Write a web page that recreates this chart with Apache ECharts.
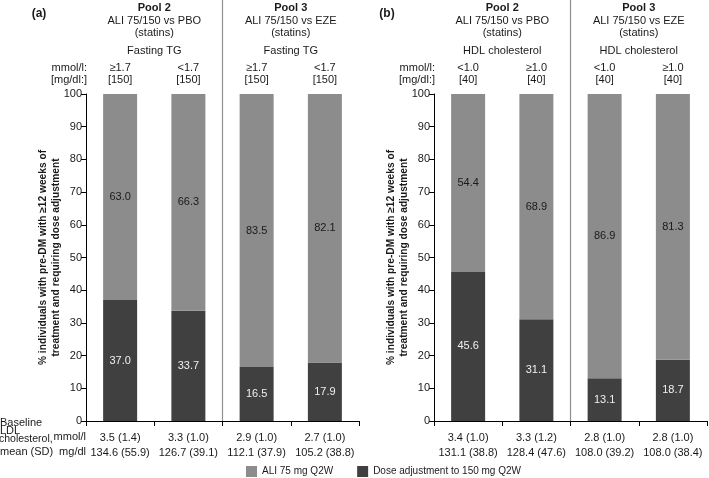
<!DOCTYPE html>
<html><head><meta charset="utf-8">
<script src="https://cdn.jsdelivr.net/npm/echarts@6/dist/echarts.min.js"></script>
<style>html,body{margin:0;padding:0;background:#fff}#c{width:709px;height:478px}</style>
</head><body><div id="c"></div>
<script>
// ---- data ----
const ldlMmolA = ['3.5 (1.4)', '3.3 (1.0)', '2.9 (1.0)', '2.7 (1.0)'];
const ldlMgA   = ['134.6 (55.9)', '126.7 (39.1)', '112.1 (37.9)', '105.2 (38.8)'];
const ldlMmolB = ['3.4 (1.0)', '3.3 (1.2)', '2.8 (1.0)', '2.8 (1.0)'];
const ldlMgB   = ['131.1 (38.8)', '128.4 (47.6)', '108.0 (39.2)', '108.0 (38.4)'];
const cutMmolA = ['≥1.7', '<1.7', '≥1.7', '<1.7'];
const cutMgA   = ['[150]', '[150]', '[150]', '[150]'];
const cutMmolB = ['<1.0', '≥1.0', '<1.0', '≥1.0'];
const cutMgB   = ['[40]', '[40]', '[40]', '[40]'];
const doseAdjA = [37.0, 33.7, 16.5, 17.9];
const ali75A   = [63.0, 66.3, 83.5, 82.1];
const doseAdjB = [45.6, 31.1, 13.1, 18.7];
const ali75B   = [54.4, 68.9, 86.9, 81.3];
const yTickMin = 0, yTickMax = 100, yTickStep = 10;
const seriesNames = ['ALI 75 mg Q2W', 'Dose adjustment to 150 mg Q2W'];
const poolTitles = ['Pool 2', 'Pool 3'];
const poolSubs = ['ALI 75/150 vs PBO', 'ALI 75/150 vs EZE'];
const poolNote = '(statins)';
const varNames = ['Fasting TG', 'HDL cholesterol'];
const panelTags = ['(a)', '(b)'];
const yTitle = '% individuals with pre-DM with ≥12 weeks of\ntreatment and requiring dose adjustment';

const FONT = '"Liberation Sans", Arial, sans-serif';
const LIGHT = '#8c8c8c', DARK = '#404040', TXT = '#1a1a1a';

const chart = echarts.init(document.getElementById('c'), null, {renderer: 'canvas'});

function pairLabels(a, b) { return a.map((v, i) => v + '\n' + b[i]); }

const grids = [
  {left: 86, top: 94, width: 273, height: 327},
  {left: 434, top: 94, width: 273, height: 327}
];

function bottomAxis(gi, cats) {
  return {
    type: 'category', gridIndex: gi, position: 'bottom', data: cats,
    axisLine: {lineStyle: {color: '#000', width: 1}},
    axisTick: {show: true, length: 5, lineStyle: {color: '#000'}},
    axisLabel: {color: TXT, fontFamily: FONT, fontSize: 11, lineHeight: 15, margin: 9, interval: 0}
  };
}
function topAxis(gi, cats) {
  return {
    type: 'category', gridIndex: gi, position: 'top', data: cats,
    axisLine: {show: false}, axisTick: {show: false},
    axisLabel: {color: TXT, fontFamily: FONT, fontSize: 11, lineHeight: 12, margin: 8, interval: 0}
  };
}
function yAxis(gi) {
  return {
    type: 'value', gridIndex: gi, min: yTickMin, max: yTickMax, interval: yTickStep,
    splitLine: {show: false},
    axisLine: {show: true, lineStyle: {color: '#000', width: 1}},
    axisTick: {show: true, length: 5, lineStyle: {color: '#000'}},
    axisLabel: {color: TXT, fontFamily: FONT, fontSize: 11, margin: 4},
    name: yTitle, nameLocation: 'middle', nameRotate: 90, nameGap: 23, nameMoveOverlap: false,
    nameTextStyle: {color: TXT, fontFamily: FONT, fontSize: 10.2, fontWeight: 'bold', lineHeight: 13}
  };
}
function barSeries(name, gi, data, color, txtColor, stack) {
  return {
    type: 'bar', name, xAxisIndex: gi * 2, yAxisIndex: gi, stack, data,
    barWidth: 34, itemStyle: {color},
    label: {show: true, position: 'inside', color: txtColor, fontFamily: FONT, fontSize: 11,
      formatter: p => p.value.toFixed(1)}
  };
}

const option = {
  animation: false,
  backgroundColor: '#fff',
  grid: grids,
  xAxis: [
    bottomAxis(0, pairLabels(ldlMmolA, ldlMgA)), topAxis(0, pairLabels(cutMmolA, cutMgA)),
    bottomAxis(1, pairLabels(ldlMmolB, ldlMgB)), topAxis(1, pairLabels(cutMmolB, cutMgB))
  ],
  yAxis: [yAxis(0), yAxis(1)],
  legend: {
    left: 241, top: 461, icon: 'rect', itemWidth: 11, itemHeight: 11, itemGap: 24,
    data: seriesNames,
    textStyle: {color: TXT, fontFamily: FONT, fontSize: 10}
  },
  series: [
    barSeries(seriesNames[1], 0, doseAdjA, DARK, '#f0f0f0', 'a'),
    barSeries(seriesNames[0], 0, ali75A, LIGHT, TXT, 'a'),
    barSeries(seriesNames[1], 1, doseAdjB, DARK, '#f0f0f0', 'b'),
    barSeries(seriesNames[0], 1, ali75B, LIGHT, TXT, 'b')
  ]
};
chart.setOption(option);

// ---- annotations positioned from the axes ----
const graphics = [];
function txt(x, y, text, opts) {
  graphics.push({type: 'text', x, y, style: Object.assign({
    text, fill: TXT, font: '11px ' + FONT, textAlign: 'center', textVerticalAlign: 'middle'
  }, opts || {})});
}
[0, 1].forEach(gi => {
  const xi = gi * 2;
  const px = i => chart.convertToPixel({xAxisIndex: xi}, i);
  const c0 = px(0), c1 = px(1), c2 = px(2), c3 = px(3);
  const sep = (c1 + c2) / 2;
  const g = grids[gi];
  const bottomY = g.top + g.height;
  graphics.push({type: 'line', shape: {x1: sep, y1: 0, x2: sep, y2: bottomY},
    style: {stroke: '#8f8f8f', lineWidth: 1.2}});
  txt(g.left - 47, 14, panelTags[gi], {font: 'bold 12px ' + FONT});
  [[c0, c1], [c2, c3]].forEach((pr, k) => {
    const cx = (pr[0] + pr[1]) / 2;
    txt(cx, 8, poolTitles[k], {font: 'bold 11px ' + FONT});
    txt(cx, 20.5, poolSubs[k]);
    txt(cx, 33, poolNote);
    txt(cx, 51, varNames[gi]);
  });
  txt(g.left + 1, 68, 'mmol/l:', {textAlign: 'right'});
  txt(g.left + 1, 80, '[mg/dl:]', {textAlign: 'right'});
  if (gi === 0) {
    txt(0, 423, 'Baseline', {textAlign: 'left'});
    txt(0, 431, 'LDL', {textAlign: 'left'});
    txt(-1, 439, 'cholesterol,', {textAlign: 'left', font: '10.5px ' + FONT});
    txt(0, 452, 'mean (SD)', {textAlign: 'left'});
    txt(g.left, 437, 'mmol/l', {textAlign: 'right'});
    txt(g.left, 452, 'mg/dl', {textAlign: 'right'});
  }
});
chart.setOption({graphic: graphics});
</script>
</body></html>
